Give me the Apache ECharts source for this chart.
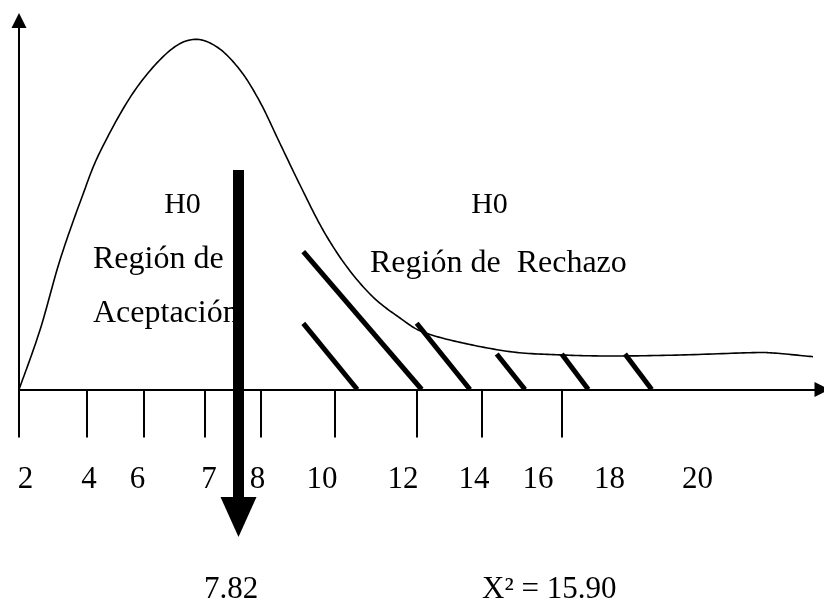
<!DOCTYPE html>
<html>
<head>
<meta charset="utf-8">
<script src="https://cdn.jsdelivr.net/npm/echarts@6/dist/echarts.min.js"></script>
<style>html,body{margin:0;padding:0;background:#fff}#c{width:824px;height:606px}</style>
</head>
<body>
<div id="c"></div>
<script>
// Chi-square density sketch (arbitrary diagram units)
var curveX = [0, 2.1, 4.1, 6.3, 8.1, 11.4, 14.8, 17.4, 19.8, 22.1, 24.1, 26.1, 28.1, 30.4, 32.8, 35.4, 38.1, 40.4, 44.4, 49.4, 54.4, 59.4, 66.1, 73.1, 75.4, 79.4];
var curveY = [0, 5.95, 12.95, 19.25, 23.75, 29.65, 33.65, 35.0, 34.25, 31.95, 28.75, 24.6, 20.45, 15.95, 12.25, 9.25, 7.15, 5.75, 4.65, 3.75, 3.45, 3.35, 3.45, 3.68, 3.65, 3.28];

// Tick marks below the axis and the tick labels (their own positions)
var tickPos = [0, 6.8, 12.5, 18.55, 24.2, 31.6, 39.75, 46.3, 54.27];
var labelPos = [0.65, 7.0, 11.85, 19.0, 23.85, 30.3, 38.4, 45.5, 51.9, 59.05, 67.85];
var labelText = ['2', '4', '6', '7', '8', '10', '12', '14', '16', '18', '20'];

// Hatching of the rejection region
var hatchX1 = [28.43, 28.43, 39.77, 47.77, 54.27, 60.6];
var hatchY1 = [13.78, 6.62, 6.62, 3.55, 3.55, 3.55];
var hatchX2 = [40.27, 33.83, 45.1, 50.6, 56.93, 63.27];
var hatchY2 = [0, 0, 0, 0, 0, 0];

// Critical value arrow (7.82)
var arrowX = 21.95;
var arrowTop = 21.95;
var arrowBottom = -10.75;
var arrowHeadY = -12.75;

// Annotations
var noteText = ['H0', 'Región de', 'Aceptación', 'H0', 'Región de  Rechazo', '7.82', 'X² = 15.90'];
var noteX = [16.35, 7.4, 7.4, 47.05, 35.1, 21.2, 46.3];
var noteY = [18.45, 12.95, 7.55, 18.45, 12.55, -20.05, -20.05];

var FONT = "'Liberation Serif','Times New Roman',serif";
var noteStyle = [
  {fontSize: 30, align: 'center'},
  {fontSize: 32, align: 'left'},
  {fontSize: 32, align: 'left'},
  {fontSize: 30, align: 'center'},
  {fontSize: 32, align: 'left'},
  {fontSize: 31, align: 'center'},
  {fontSize: 31, align: 'left'}
];

// Catmull-Rom rendering of a pixel polyline (drawing detail only)
function catmull(pts, steps) {
  var out = [];
  for (var i = 0; i < pts.length - 1; i++) {
    var p0 = pts[Math.max(i - 1, 0)], p1 = pts[i], p2 = pts[i + 1], p3 = pts[Math.min(i + 2, pts.length - 1)];
    for (var s = 0; s < steps; s++) {
      var t = s / steps, t2 = t * t, t3 = t2 * t;
      out.push([0, 1].map(function (k) {
        return 0.5 * ((2 * p1[k]) + (-p0[k] + p2[k]) * t +
          (2 * p0[k] - 5 * p1[k] + 4 * p2[k] - p3[k]) * t2 +
          (-p0[k] + 3 * p1[k] - 3 * p2[k] + p3[k]) * t3);
      }));
    }
  }
  out.push(pts[pts.length - 1]);
  return out;
}

var chart = echarts.init(document.getElementById('c'), null, {renderer: 'canvas'});

var series = [];
series.push({
  type: 'custom', silent: true, z: 3,
  data: curveX.map(function (x, i) { return [x, curveY[i]]; }),
  renderItem: function (params, api) {
    if (params.dataIndex !== 0) return null;
    var pts = curveX.map(function (x, i) { return api.coord([x, curveY[i]]); });
    return {
      type: 'polyline',
      shape: {points: catmull(pts, 16)},
      style: {stroke: '#000', lineWidth: 1.6, fill: null}
    };
  }
});
hatchX1.forEach(function (x, i) {
  series.push({
    type: 'line', symbol: 'none', silent: true, z: 4,
    lineStyle: {color: '#000', width: 5, cap: 'butt'},
    data: [[x, hatchY1[i]], [hatchX2[i], hatchY2[i]]]
  });
});
series.push({
  type: 'scatter', symbolSize: 0, silent: true, z: 2, clip: false,
  itemStyle: {opacity: 1},
  data: noteText.map(function (t, i) {
    return {
      value: [noteX[i], noteY[i]],
      label: {
        show: true, position: 'inside', formatter: t,
        color: '#000', opacity: 1, fontFamily: FONT,
        fontSize: noteStyle[i].fontSize, align: noteStyle[i].align, verticalAlign: 'middle'
      }
    };
  })
});
series.push({
  type: 'line', symbol: 'none', silent: true, z: 6, clip: false,
  lineStyle: {color: '#000', width: 11, cap: 'butt'},
  data: [[arrowX, arrowTop], [arrowX, arrowBottom]]
});
series.push({
  type: 'scatter', silent: true, z: 6, clip: false,
  symbol: 'triangle', symbolRotate: 180, symbolSize: [36, 40],
  itemStyle: {color: '#000', opacity: 1},
  data: [[arrowX, arrowHeadY]]
});

chart.setOption({
  animation: false,
  backgroundColor: '#fff',
  grid: {left: 19, right: 2, top: 20.5, bottom: 216.5, containLabel: false},
  xAxis: {
    type: 'value', min: 0, max: 80.3,
    splitLine: {show: false},
    axisLine: {show: true, onZero: false, symbol: ['none', 'triangle'], symbolSize: [15, 15],
      lineStyle: {color: '#000', width: 2}},
    axisTick: {show: true, inside: false, length: 48, customValues: tickPos,
      lineStyle: {color: '#000', width: 2}},
    axisLabel: {show: true, margin: 75, customValues: labelPos, color: '#000',
      fontFamily: FONT, fontSize: 31,
      formatter: function (v) {
        for (var i = 0; i < labelPos.length; i++) {
          if (Math.abs(labelPos[i] - v) < 1e-6) return labelText[i];
        }
        return '';
      }}
  },
  yAxis: {
    type: 'value', min: 0, max: 36.9,
    splitLine: {show: false},
    axisLine: {show: true, onZero: false, symbol: ['none', 'triangle'], symbolSize: [15, 15],
      lineStyle: {color: '#000', width: 2}},
    axisTick: {show: false},
    axisLabel: {show: false}
  },
  series: series
});
</script>
</body>
</html>
